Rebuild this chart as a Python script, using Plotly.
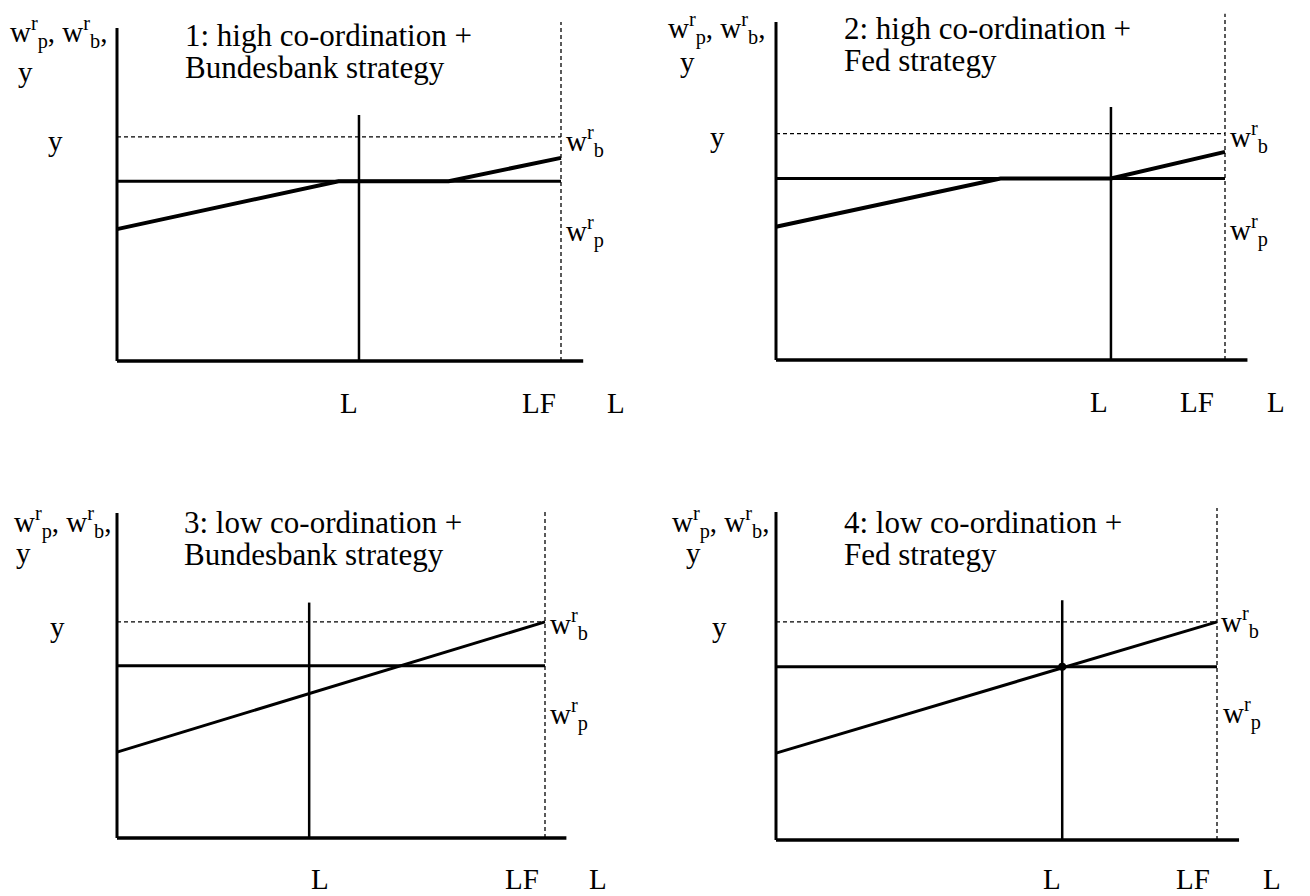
import plotly.graph_objects as go

# wage-setting / employment diagrams, four regimes
TITLES = [
    "1: high co-ordination +<br>Bundesbank strategy",
    "2: high co-ordination +<br>Fed strategy",
    "3: low co-ordination +<br>Bundesbank strategy",
    "4: low co-ordination +<br>Fed strategy",
]
LF = 10.0                                   # labour force
L_EMPLOY = [5.45, 7.46, 4.49, 6.49]         # equilibrium employment
L_TOP = [7.39, 7.6, 7.07, 7.2]
Y_TARGET = [6.73, 6.8, 6.49, 6.55]          # dashed y level
WP_LEVEL = [5.4, 5.45, 5.17, 5.2]           # w^r_p (flat)
WB_X = [[0, 4.99, 7.47, 10], [0, 5.0, 7.46, 10], [0, 10], [0, 10]]
WB_Y = [[3.96, 5.4, 5.4, 6.1], [4.0, 5.45, 5.45, 6.25], [2.58, 6.49], [2.61, 6.55]]
AXIS_TOP = [10.0, 10.15, 9.76, 9.85]
LF_TOP = [10.18, 10.4, 9.8, 9.97]
X_END = 10.5
DOT_PANEL = 3

W, H = 1310, 896
OFF = 8          # page body margin
FONT = "Liberation Serif"
FS_TITLE = 31
FS = 29

# pixel layout of each panel: origin (x, y) and pixels per unit
ORIGIN = [(117, 361), (776, 360), (117, 838), (776, 840)]
PPU_X = [44.4, 44.9, 42.8, 44.1]
PPU_Y = 33.3
XR = [-1.5, 11.4]
YR = [-0.6, 10.7]

# text positions in pixels
YLAB = [(8, 33, 16, 72), (666, 28, 678, 62), (12, 522, 14, 553), (670, 522, 684, 553)]
TITLE_POS = [(183, 35), (842, 28), (182, 522), (842, 522)]
YTICK = [(55, 141), (717, 137), (57, 627), (719, 627)]
WB_LAB = [(564, 141), (1228, 137), (548, 624), (1219, 622)]
WP_LAB = [(564, 231), (1228, 230), (548, 714), (1221, 713)]
XLAB = [((349, 539, 616), 403), ((1099, 1197, 1276), 402),
        ((320, 522, 598), 879), ((1052, 1193, 1272), 879)]


def px(x, y):
    return (x - OFF) / W, 1 - (y - OFF) / H


fig = go.Figure()
annotations = []
layout = {}

for i in range(4):
    ax = "" if i == 0 else str(i + 1)
    xa, ya = "x" + ax, "y" + ax
    ox, oy = ORIGIN[i]
    # pixel box of the panel, kept inside the figure
    left = max(OFF, ox + XR[0] * PPU_X[i])
    right = min(W + OFF, ox + XR[1] * PPU_X[i])
    top = max(OFF, oy - YR[1] * PPU_Y)
    bottom = min(H + OFF, oy - YR[0] * PPU_Y)
    d0, e0 = px(left, bottom)
    d1, e1 = px(right, top)
    xr = [(left - ox) / PPU_X[i], (right - ox) / PPU_X[i]]
    yr = [(oy - bottom) / PPU_Y, (oy - top) / PPU_Y]
    layout["xaxis" + ax] = dict(domain=[d0, d1], range=xr, visible=False, fixedrange=True)
    layout["yaxis" + ax] = dict(domain=[e0, e1], range=yr, visible=False, fixedrange=True)

    def line(xs, ys, width, dash="solid"):
        fig.add_trace(go.Scatter(x=xs, y=ys, xaxis=xa, yaxis=ya, mode="lines",
                                 line=dict(color="black", width=width, dash=dash),
                                 hoverinfo="skip", showlegend=False))

    # axes
    line([0, 0], [0, AXIS_TOP[i]], 3)
    line([0, X_END], [0, 0], 3.5)
    # labour force (dashed) and target y (dashed)
    line([LF, LF], [0, LF_TOP[i]], 1.3, "4px,3px")
    line([0, LF], [Y_TARGET[i], Y_TARGET[i]], 1.3, "4px,3px")
    # employment
    line([L_EMPLOY[i], L_EMPLOY[i]], [0, L_TOP[i]], 2.5)
    # w^r_p and w^r_b
    line([0, LF], [WP_LEVEL[i], WP_LEVEL[i]], 3)
    line(WB_X[i], WB_Y[i], 4 if i < 2 else 3)
    if i == DOT_PANEL:
        fig.add_trace(go.Scatter(x=[L_EMPLOY[i]], y=[WP_LEVEL[i]], xaxis=xa, yaxis=ya,
                                 mode="markers", marker=dict(color="black", size=8),
                                 hoverinfo="skip", showlegend=False))

    def text(t, x, y, xanchor="left", size=FS):
        u, v = px(x, y)
        annotations.append(dict(text=t, x=u, y=v, xref="paper", yref="paper",
                                xanchor=xanchor, yanchor="middle", showarrow=False,
                                font=dict(family=FONT, size=size, color="black")))

    lx, ly, yx, yy = YLAB[i]
    text("w<sup>r</sup><sub>p</sub>, w<sup>r</sup><sub>b</sub>,", lx, ly)
    text("y", yx, yy)
    tx, ty = TITLE_POS[i]
    l1, l2 = TITLES[i].split("<br>")
    text(l1, tx, ty, size=FS_TITLE)
    text(l2, tx, ty + 32, size=FS_TITLE)
    text("y", YTICK[i][0], YTICK[i][1], "center")
    text("w<sup>r</sup><sub>b</sub>", *WB_LAB[i])
    text("w<sup>r</sup><sub>p</sub>", *WP_LAB[i])
    (a, b, c), y0 = XLAB[i]
    text("L", a, y0, "center")
    text("LF", b, y0, "center")
    text("L", c, y0, "center")

fig.update_layout(width=W, height=H, margin=dict(l=0, r=0, t=0, b=0),
                  paper_bgcolor="white", plot_bgcolor="rgba(0,0,0,0)",
                  annotations=annotations, **layout)

fig.write_html("out.html")
